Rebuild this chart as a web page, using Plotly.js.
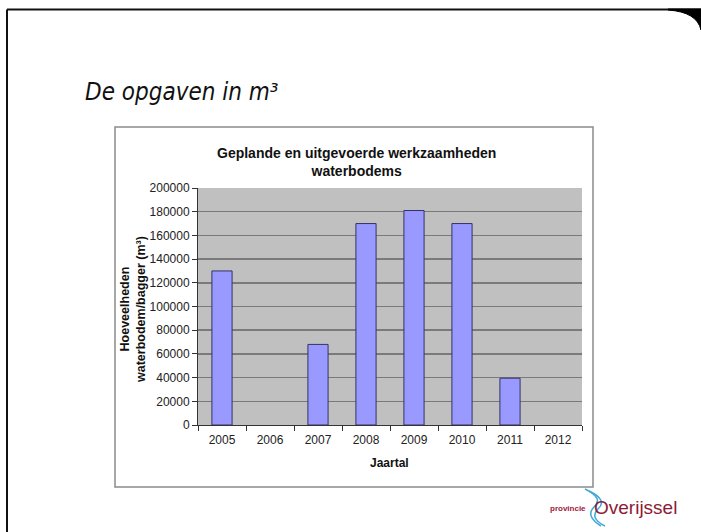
<!DOCTYPE html>
<html>
<head>
<meta charset="utf-8">
<script src="https://cdn.plot.ly/plotly-3.0.1.min.js"></script>
<style>html,body{margin:0;padding:0;background:#fff;}#chart{width:701px;height:532px;}</style>
</head>
<body>
<div id="chart"></div>
<script>
// Data
const years = ['2005', '2006', '2007', '2008', '2009', '2010', '2011', '2012'];
const volumes = [130000, null, 68000, 170000, 181000, 170000, 39500, null];
const yTicks = [0, 20000, 40000, 60000, 80000, 100000, 120000, 140000, 160000, 180000, 200000];
const yTickLabels = ['0', '20000', '40000', '60000', '80000', '100000', '120000', '140000', '160000', '180000', '200000'];

const slideTitle = 'De opgaven in m³';
const chartTitle = 'Geplande en uitgevoerde werkzaamheden<br>waterbodems';
const xTitle = 'Jaartal';
const yTitle = 'Hoeveelheden<br>waterbodem/bagger (m³)';

const W = 701, H = 532;
const px = x => x / W;
const py = y => 1 - y / H;

const trace = {
  type: 'bar',
  x: years,
  y: volumes,
  marker: { color: '#9999FF', line: { color: '#333366', width: 1 } },
  hoverinfo: 'x+y'
};

const font = 'Liberation Sans, Arial, sans-serif';

const cornerPath = 'M ' + px(668) + ' ' + py(9) + ' L ' + px(701) + ' ' + py(9) +
  ' L ' + px(701) + ' ' + py(30) + ' Q ' + px(697) + ' ' + py(12) + ' ' + px(668) + ' ' + py(10) + ' Z';

const wave1 = 'M ' + px(585) + ' ' + py(489) + ' Q ' + px(604) + ' ' + py(498) + ' ' + px(594) + ' ' + py(507) +
  ' Q ' + px(585) + ' ' + py(516) + ' ' + px(601) + ' ' + py(526);
const wave2 = 'M ' + px(589) + ' ' + py(491) + ' Q ' + px(608) + ' ' + py(500) + ' ' + px(598) + ' ' + py(509) +
  ' Q ' + px(589) + ' ' + py(518) + ' ' + px(605) + ' ' + py(526);

const layout = {
  width: W, height: H,
  margin: { l: 0, r: 0, t: 0, b: 0 },
  paper_bgcolor: '#ffffff',
  plot_bgcolor: '#C0C0C0',
  showlegend: false,
  bargap: 0.58,
  xaxis: {
    domain: [px(198), px(582)],
    type: 'category',
    tickson: 'boundaries',
    ticks: 'outside', ticklen: 5, tickcolor: '#333333', tickwidth: 1,
    showline: true, linecolor: '#333333', linewidth: 1,
    showgrid: false,
    ticklabelstandoff: 4,
    tickfont: { family: font, size: 12, color: '#222222' },
    automargin: false,
    fixedrange: true
  },
  yaxis: {
    domain: [py(425), py(188)],
    range: [0, 200000],
    tickvals: yTicks,
    ticktext: yTickLabels,
    ticks: 'outside', ticklen: 5, tickcolor: '#333333', tickwidth: 1,
    showline: true, linecolor: '#333333', linewidth: 1,
    showgrid: true, gridcolor: '#7A7A7A', gridwidth: 1.5,
    zeroline: false,
    tickfont: { family: font, size: 12, color: '#222222' },
    automargin: false,
    fixedrange: true
  },
  shapes: [
    // slide border
    { type: 'line', xref: 'paper', yref: 'paper', x0: px(7), x1: px(701), y0: py(9.5), y1: py(9.5), line: { color: '#111111', width: 2 } },
    { type: 'line', xref: 'paper', yref: 'paper', x0: px(7), x1: px(7), y0: py(9.5), y1: 0, line: { color: '#111111', width: 2 } },
    { type: 'path', xref: 'paper', yref: 'paper', path: cornerPath, fillcolor: '#000000', line: { color: '#000000', width: 1 } },
    // chart frame
    { type: 'rect', xref: 'paper', yref: 'paper', x0: px(115), x1: px(593), y0: py(487), y1: py(127), line: { color: '#8A8A8A', width: 1.5 }, fillcolor: 'rgba(0,0,0,0)' },
    // logo waves
    { type: 'path', xref: 'paper', yref: 'paper', path: wave1, line: { color: '#3FA9D8', width: 1.5 } },
    { type: 'path', xref: 'paper', yref: 'paper', path: wave2, line: { color: '#3FA9D8', width: 1.5 } }
  ],
  annotations: [
    { text: slideTitle, xref: 'paper', yref: 'paper', x: px(83), y: py(92), xanchor: 'left', yanchor: 'middle', showarrow: false,
      font: { family: 'DejaVu Sans Condensed, DejaVu Sans, sans-serif', size: 24, color: '#111111', style: 'italic' } },
    { text: '<b>' + chartTitle + '</b>', xref: 'paper', yref: 'paper', x: px(356), y: py(162), xanchor: 'center', yanchor: 'middle', showarrow: false,
      font: { family: font, size: 14, color: '#111111' } },
    { text: '<b>' + xTitle + '</b>', xref: 'paper', yref: 'paper', x: px(389), y: py(463), xanchor: 'center', yanchor: 'middle', showarrow: false,
      font: { family: font, size: 12, color: '#111111' } },
    { text: '<b>' + yTitle + '</b>', xref: 'paper', yref: 'paper', x: px(133), y: py(310), xanchor: 'center', yanchor: 'middle', showarrow: false, textangle: -90,
      font: { family: font, size: 12.5, color: '#111111' } },
    { text: '<b>provincie</b>', xref: 'paper', yref: 'paper', x: px(588), y: py(508), xanchor: 'right', yanchor: 'middle', showarrow: false,
      font: { family: font, size: 8, color: '#A0203A' } },
    { text: 'Overijssel', xref: 'paper', yref: 'paper', x: px(592), y: py(507), xanchor: 'left', yanchor: 'middle', showarrow: false,
      font: { family: font, size: 19, color: '#8E1B36' } }
  ]
};

Plotly.newPlot('chart', [trace], layout, { displayModeBar: false, staticPlot: true });
</script>
</body>
</html>
